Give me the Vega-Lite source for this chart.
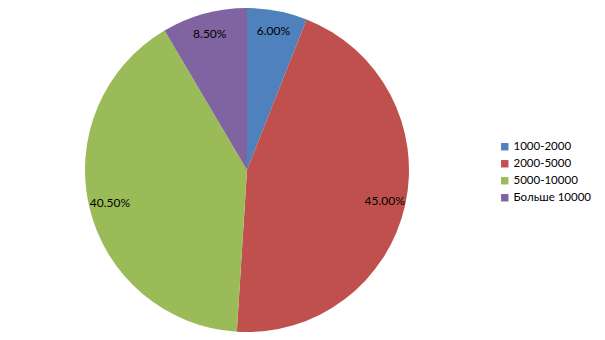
{
  "$schema": "https://vega.github.io/schema/vega-lite/v6.json",
  "width": 494,
  "height": 340,
  "padding": 0,
  "autosize": {"type": "pad"},
  "background": "white",
  "view": {"stroke": null},
  "data": {
    "values": [
      {"range": "1000-2000", "share": 6.0, "label": "6.00%", "k": 1},
      {"range": "2000-5000", "share": 45.0, "label": "45.00%", "k": 2},
      {"range": "5000-10000", "share": 40.5, "label": "40.50%", "k": 3},
      {"range": "Больше 10000", "share": 8.5, "label": "8.50%", "k": 4}
    ]
  },
  "encoding": {
    "theta": {"field": "share", "type": "quantitative", "stack": true},
    "order": {"field": "k", "type": "quantitative"},
    "color": {
      "field": "range",
      "type": "nominal",
      "scale": {
        "domain": ["1000-2000", "2000-5000", "5000-10000", "Больше 10000"],
        "range": ["#4F81BD", "#C0504D", "#9BBB59", "#8064A2"]
      },
      "legend": {
        "title": null,
        "orient": "none",
        "legendX": 499,
        "legendY": 141,
        "symbolType": "square",
        "symbolSize": 55,
        "symbolStrokeWidth": 0,
        "labelFont": "Lato",
        "labelFontSize": 11.5,
        "labelColor": "#000000",
        "rowPadding": 4,
        "labelOffset": 3
      }
    }
  },
  "layer": [
    {"mark": {"type": "arc", "outerRadius": 162, "stroke": null}},
    {
      "mark": {"type": "text", "radius": 141, "font": "Lato", "fontSize": 12, "fill": "#000000"},
      "encoding": {"text": {"field": "label"}, "color": {"value": "#000000"}}
    }
  ]
}
